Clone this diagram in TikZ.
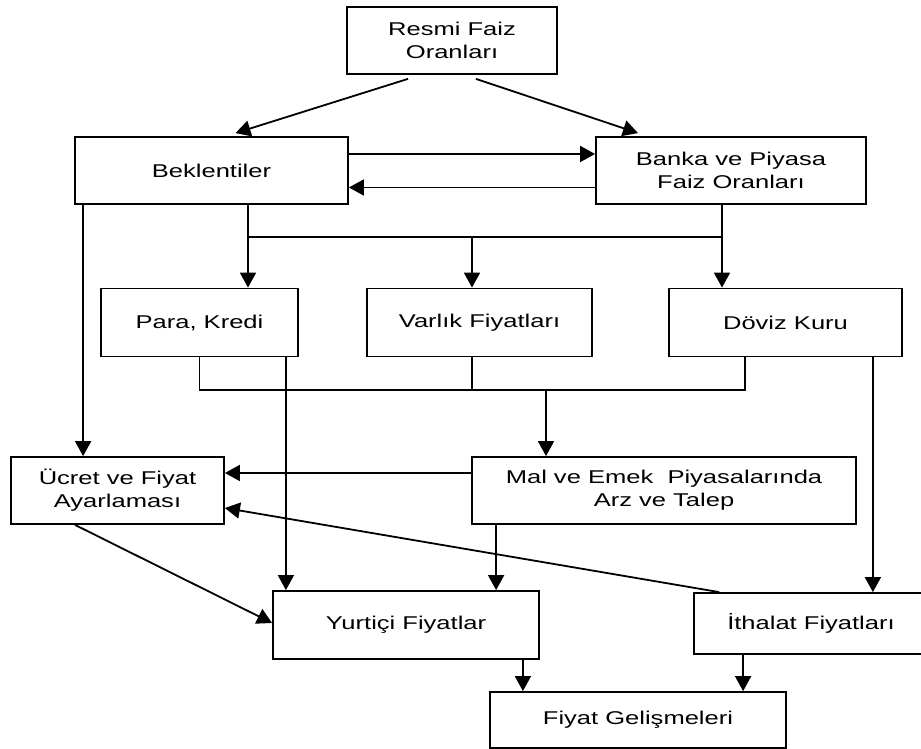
\documentclass[tikz,border=0pt]{standalone}
\usepackage{fontspec}
\setmainfont{Liberation Sans}[FakeStretch=1.38]
\usetikzlibrary{arrows.meta}
\usetikzlibrary{calc}

\tikzset{
  box/.style={draw, line width=1.8pt, align=center, inner sep=0pt, font=\fontsize{18.5}{23}\selectfont},
  link/.style={line width=1.8pt},
  flow/.style={line width=1.8pt, -{Triangle[length=15pt,width=16pt]}},
}

\begin{document}
\begin{tikzpicture}[x=1pt,y=1pt]
    \useasboundingbox (0,0) rectangle (921,749);

    \node[box, minimum width=210pt, minimum height=67pt] (resmi) at (452,708.5) {Resmi Faiz\\Oranları};
    \node[box, minimum width=273pt, minimum height=67pt] (bek) at (211.5,578.5) {Beklentiler};
    \node[box, minimum width=270pt, minimum height=67pt] (banka) at (731,578.5) {Banka ve Piyasa\\Faiz Oranları};
    \node[box, minimum width=197pt, minimum height=68pt] (para) at (199.5,426.5) {Para, Kredi};
    \node[box, minimum width=225pt, minimum height=68pt] (varlik) at (479.5,426.5) {Varlık Fiyatları};
    \node[box, minimum width=233pt, minimum height=68pt] (doviz) at (785.5,426.5) {Döviz Kuru};
    \node[box, minimum width=213pt, minimum height=67pt] (ucret) at (117.5,258.5) {Ücret ve Fiyat\\Ayarlaması};
    \node[box, minimum width=384pt, minimum height=67pt] (mal) at (664,258.5) {Mal ve Emek\ \ Piyasalarında\\Arz ve Talep};
    \node[box, minimum width=266pt, minimum height=68pt] (yurt) at (406,124) {Yurtiçi Fiyatlar};
    \node[box, minimum width=234pt, minimum height=61pt] (ithal) at (811,125.5) {İthalat Fiyatları};
    \node[box, minimum width=296pt, minimum height=56pt] (fiyat) at (638,29) {Fiyat Gelişmeleri};

    \coordinate (bek out) at ([xshift=36.5pt]bek.south);
    \coordinate (banka out) at ([xshift=-9pt]banka.south);
    \coordinate (bus top) at (472,512);
    \coordinate (bus low) at (546,359);
    \coordinate (doviz out) at ([xshift=-40.5pt]doviz.south);
    \coordinate (bek left) at ([xshift=9pt]bek.south west);
    \coordinate (para out) at ([xshift=-13pt]para.south east);
    \coordinate (doviz right) at ([xshift=-30pt]doviz.south east);
    \coordinate (mal out) at ([xshift=25pt]mal.south west);
    \coordinate (yurt out) at ([xshift=-17pt]yurt.south east);
    \coordinate (ithal out) at ([xshift=50pt]ithal.south west);

    \draw[flow] ([xshift=-44pt,yshift=-4pt]resmi.south) -- ([xshift=24pt,yshift=3pt]bek.north);
    \draw[flow] ([xshift=24pt,yshift=-4pt]resmi.south) -- ([xshift=-93pt,yshift=3pt]banka.north);
    \draw[flow] ([yshift=16.5pt]bek.east) -- ([yshift=16.5pt]banka.west);
    \draw[flow] ([yshift=-17pt]banka.west) -- ([yshift=-17pt]bek.east);

    \draw[flow] (bek out) -- (bek out |- para.north);
    \draw[flow] (banka out) -- (banka out |- doviz.north);
    \draw[link] (bek out |- bus top) -- (banka out |- bus top);
    \draw[flow] (bus top) -- (bus top |- varlik.north);

    \draw[link] (para.south) -- (para.south |- bus low) -- (doviz out |- bus low) -- (doviz out);
    \draw[link] (bus top |- varlik.south) -- (bus top |- bus low);
    \draw[flow] (bus low) -- (bus low |- mal.north);

    \draw[flow] (bek left) -- (bek left |- ucret.north);
    \draw[flow] (para out) -- (para out |- yurt.north);
    \draw[flow] (doviz right) -- (doviz right |- ithal.north);
    \draw[flow] ([yshift=17.5pt]mal.west) -- ([yshift=17.5pt]ucret.east);
    \draw[flow] ([xshift=26pt]ithal.north west) -- ([yshift=-17.5pt]ucret.east);
    \draw[flow] ([xshift=-42.5pt]ucret.south) -- ([yshift=2pt]yurt.west);
    \draw[flow] (mal out) -- (mal out |- yurt.north);

    \draw[flow] (yurt out) -- (yurt out |- fiyat.north);
    \draw[flow] (ithal out) -- (ithal out |- fiyat.north);
\end{tikzpicture}
\end{document}
